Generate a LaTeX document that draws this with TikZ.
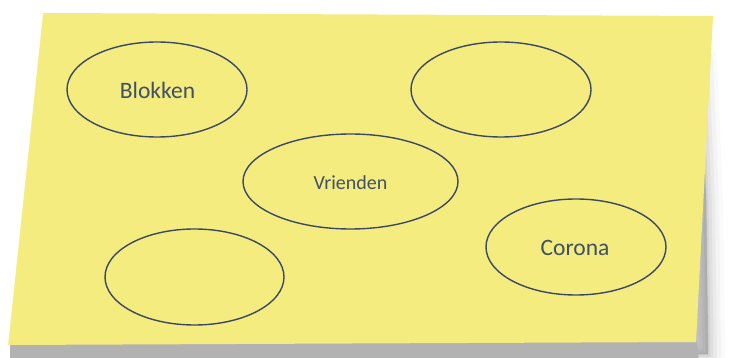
\documentclass[tikz,border=0pt]{standalone}
\usepackage{fontspec}
\setmainfont{Carlito}
\definecolor{notey}{RGB}{244,236,126}
\definecolor{inkline}{RGB}{58,72,104}
\definecolor{inktext}{RGB}{64,80,104}
\tikzset{
  bubble/.style={ellipse, draw=inkline, line width=1.4pt, inner sep=0pt},
  lbl/.style={text=inktext, font=\fontsize{23.5}{23.5}\selectfont},
}
\usetikzlibrary{shapes.geometric}
\begin{document}
\begin{tikzpicture}[x=1pt,y=-1pt]
  \useasboundingbox[fill=white] (0,0) rectangle (729,358);
  % soft shadow under the lifted lower edge of the note
  \foreach \w/\o in {34/0.04,26/0.05,18/0.07,11/0.09,5/0.12,1/0.15}{
    \filldraw[black!50, opacity=\o, line width=\w pt, line join=round]
      (30,346) -- (700,60) -- (706,200) -- (708,354) -- (30,360) -- cycle;
  }
  \fill[black!30] (10,344) -- (697,341) -- (699,362) -- (10,362) -- cycle;
  % the note itself
  \fill[notey] (43,13) -- (713,16) -- (696,342) -- (8,345) -- cycle;
  \draw[white, opacity=0.35, line width=0.8pt] (43,13) -- (8,345);
  % bubbles
  \node[bubble, minimum width=180pt, minimum height=95pt] (blokken) at (157,89.5) {};
  \node[bubble, minimum width=180pt, minimum height=95pt] (leeg1) at (501,89.5) {};
  \node[bubble, minimum width=215pt, minimum height=95pt] (vrienden) at (350.5,181.5) {};
  \node[bubble, minimum width=179pt, minimum height=96pt] (leeg2) at (194.5,277) {};
  \node[bubble, minimum width=180pt, minimum height=96pt] (corona) at (576,247) {};
  % labels
  \node[lbl] (tb) at (157.5,90) {Blokken};
  \node[lbl, font=\fontsize{20}{20}\selectfont] (tv) at (350.5,183) {Vrienden};
  \node[lbl] (tc) at (575,248) {Corona};
\end{tikzpicture}
\end{document}
